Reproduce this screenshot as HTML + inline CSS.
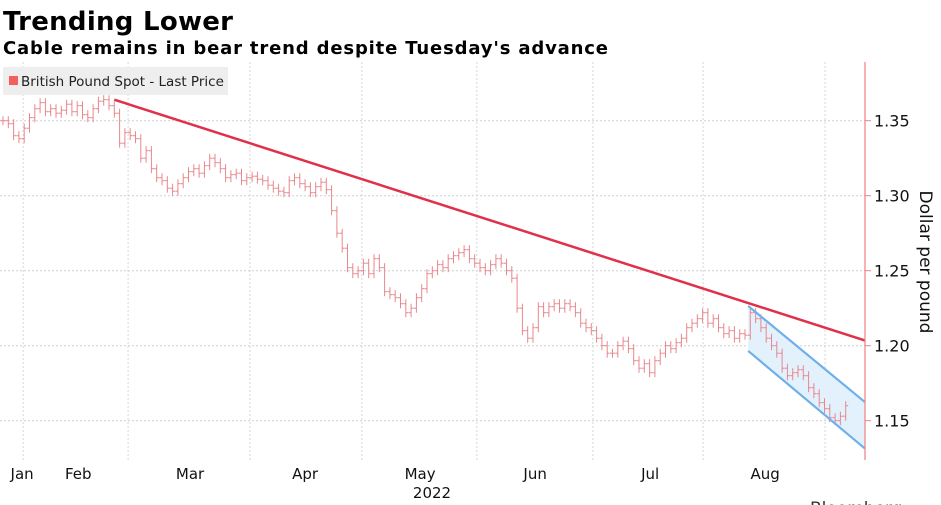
<!DOCTYPE html>
<html><head><meta charset="utf-8"><style>
body{margin:0;background:#fff;width:941px;height:505px;overflow:hidden}
svg{display:block;font-family:"DejaVu Sans","Liberation Sans",sans-serif}
</style></head><body>
<svg id="chart" width="941" height="505">
<text x="3" y="30" font-size="26" font-weight="bold" textLength="230">Trending Lower</text>
<text x="3" y="54" font-size="18" font-weight="bold" textLength="605">Cable remains in bear trend despite Tuesday's advance</text>
<g id="grid"></g>
<g id="marks"></g>
<rect x="3" y="67" width="225" height="28" fill="#eeeeee"/>
<rect x="9" y="76" width="9" height="9" fill="#f25f5c"/>
<text x="21" y="86" font-size="13.5" fill="#222">British Pound Spot - Last Price</text>
<text x="920" y="262" font-size="17" fill="#111" text-anchor="middle" transform="rotate(90 920 262)">Dollar per pound</text>
<text x="432" y="498" font-size="15" fill="#111" text-anchor="middle">2022</text>
<text x="810" y="514" font-size="17" fill="#333">Bloomberg</text>
</svg>
<script>
const closes=[1.350,1.348,1.340,1.338,1.345,1.352,1.358,1.362,1.356,1.358,1.355,1.357,1.361,1.356,1.360,1.354,1.352,1.358,1.363,1.364,1.360,1.355,
1.335,1.342,1.340,1.338,1.325,1.330,1.318,1.312,1.310,1.305,1.303,1.308,1.312,1.316,1.318,1.315,1.320,1.325,1.322,
1.318,1.312,1.314,1.315,1.310,1.312,1.313,1.311,1.310,1.307,1.305,1.303,1.302,1.310,1.312,1.308,1.306,1.302,1.306,1.309,1.304,1.290,1.275,
1.265,1.252,1.248,1.250,1.255,1.248,1.258,1.252,1.236,1.234,1.232,1.228,1.222,1.225,1.232,1.238,1.248,
1.250,1.254,1.252,1.258,1.260,1.262,1.264,1.258,1.255,1.252,1.250,1.254,1.258,1.255,1.250,1.245,
1.225,1.210,1.205,1.212,1.226,1.222,1.226,1.228,1.225,1.228,1.226,1.222,1.215,1.212,1.210,1.205,1.200,1.195,
1.195,1.200,1.203,1.198,1.190,1.185,1.188,1.182,1.190,1.195,1.200,1.198,1.202,1.205,1.212,1.215,1.218,1.222,1.215,
1.218,1.212,1.208,1.210,1.205,1.208,1.207,1.222,1.218,1.212,1.205,1.200,1.195,1.185,1.180,1.182,1.184,
1.180,1.172,1.168,1.162,1.158,1.152,1.150,1.153,1.160];
const yTicks=[1.15,1.20,1.25,1.30,1.35];
const yTickLabels=["1.15","1.20","1.25","1.30","1.35"];
const months=["Jan","Feb","Mar","Apr","May","Jun","Jul","Aug"];
const monthIdx=[3.6,14.2,35.3,57,78.7,100.4,122.1,143.8];
const gridIdx=[3.8,23.6,46.6,67.7,89.4,111.3,132.1,155.1];
const trendIdx=[21,162.6], trendVal=[1.364,1.2035];
const chanIdx=[140.6,162.6], chanUpper=[1.2265,1.1625], chanLower=[1.1965,1.1315];
const svg=document.getElementById('chart'),NS='http://www.w3.org/2000/svg';
const X=i=>3+5.3*i, Y=v=>345.7-(v-1.20)*1500;
const AX=865,TOP=62,BOT=460;
function el(t,a,p){const e=document.createElementNS(NS,t);for(const k in a)e.setAttribute(k,a[k]);(p||svg).appendChild(e);return e;}
const grid=document.getElementById('grid'),marks=document.getElementById('marks');
yTicks.forEach((v,k)=>{
 const g=el('line',{x1:0,x2:AX,y1:Y(v),y2:Y(v),stroke:'#cfcfcf','stroke-dasharray':'2,2'},grid);
 
 
 const t=el('line',{x1:AX,x2:AX+6,y1:Y(v),y2:Y(v),stroke:'#f08080'});
 
 
 const l=el('text',{x:AX+9,y:Y(v)+6,'font-size':16,fill:'#111'});l.textContent=yTickLabels[k];
 
 
});
gridIdx.forEach(i=>{
 const g=el('line',{x1:X(i),x2:X(i),y1:TOP,y2:BOT,stroke:'#d6d6d6','stroke-dasharray':'2,2'},grid);
 
 
});
months.forEach((m,k)=>{
 const t=el('text',{x:X(monthIdx[k]),y:479,'font-size':15,fill:'#111','text-anchor':'middle'});t.textContent=m;
 
 
});
const ax=el('line',{x1:AX,x2:AX,y1:TOP,y2:BOT,stroke:'#f08080','stroke-width':1.2});


// channel
const poly=el('polygon',{points:[X(chanIdx[0])+','+Y(chanUpper[0]),X(chanIdx[1])+','+Y(chanUpper[1]),X(chanIdx[1])+','+Y(chanLower[1]),X(chanIdx[0])+','+Y(chanLower[0])].join(' '),fill:'#e3f1fc'},marks);


// bars
closes.forEach((c,i)=>{
 const o=i>0?closes[i-1]:c, x=X(i);
 const hi=Math.max(o,c)+0.003, lo=Math.min(o,c)-0.003;
 const g=el('g',{stroke:'#e8878c','stroke-width':1},marks);
 
 
 el('line',{x1:x,x2:x,y1:Y(hi),y2:Y(lo)},g);
 el('line',{x1:x-2.5,x2:x,y1:Y(o),y2:Y(o)},g);
 el('line',{x1:x,x2:x+2.5,y1:Y(c),y2:Y(c)},g);
});
[[chanUpper,'channel-upper'],[chanLower,'channel-lower']].forEach(([a,n])=>{
 const l=el('line',{x1:X(chanIdx[0]),y1:Y(a[0]),x2:X(chanIdx[1]),y2:Y(a[1]),stroke:'#6fb0ea','stroke-width':2.2},marks);
 
 
});
const tl=el('line',{x1:X(trendIdx[0]),y1:Y(trendVal[0]),x2:X(trendIdx[1]),y2:Y(trendVal[1]),stroke:'#e0304a','stroke-width':2.5},marks);


</script>
</body></html>
